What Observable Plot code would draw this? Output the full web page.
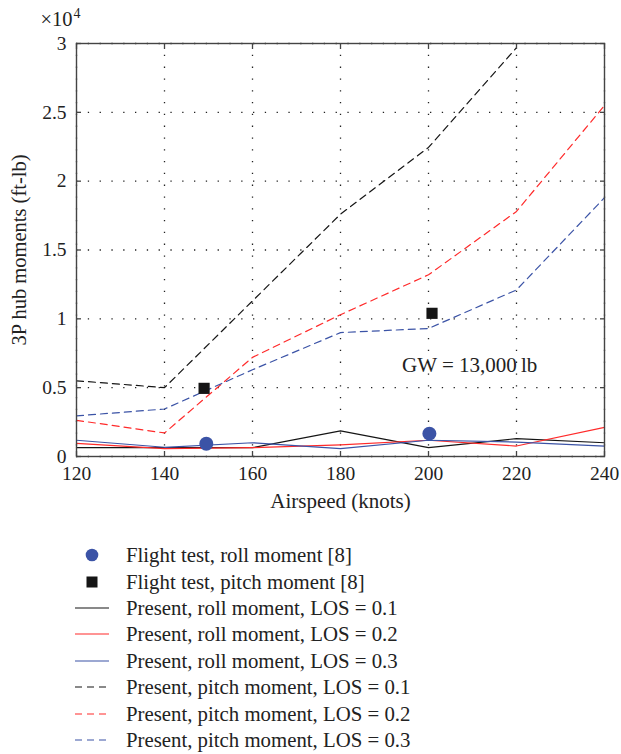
<!DOCTYPE html>
<html>
<head>
<meta charset="utf-8">
<script src="https://cdn.jsdelivr.net/npm/d3@7"></script>
<script src="https://cdn.jsdelivr.net/npm/@observablehq/plot@0.6"></script>
<style>
  html, body { margin: 0; padding: 0; background: #fff; }
  #chart svg { display: block; }
  #legend { font-family: "Liberation Serif", "DejaVu Serif", serif; font-size: 20.8px; color: #222; padding-left: 74px; margin-top: 22px; }
  .row { display: flex; align-items: center; height: 26.4px; }
  .row svg { flex: none; margin-right: 16px; }
</style>
</head>
<body>
<div id="chart"></div>
<div id="legend"></div>
<script>
// Airspeed (knots)
const speeds = [120, 140, 160, 180, 200, 220, 240];
const speedsPitch01 = [120, 140, 160, 180, 200, 220];

// Present, roll moment (ft-lb)
const rollLOS01 = [640, 640, 640, 1860, 640, 1300, 1000];
const rollLOS02 = [960, 570, 640, 850, 1180, 760, 2120];
const rollLOS03 = [1180, 670, 1000, 570, 1180, 1050, 760];

// Present, pitch moment (ft-lb)
const pitchLOS01 = [5500, 5000, 11300, 17600, 22450, 29700];
const pitchLOS02 = [2630, 1710, 7200, 10300, 13200, 17800, 25500];
const pitchLOS03 = [2950, 3450, 6300, 9000, 9300, 12100, 18800];

// Flight test [8]
const flightRollSpeed = [149.5, 200.2];
const flightRoll = [930, 1660];
const flightPitchSpeed = [149.0, 200.8];
const flightPitch = [4950, 10400];

// Ticks
const xTicks = [120, 140, 160, 180, 200, 220, 240];
const yTicks = [0, 5000, 10000, 15000, 20000, 25000, 30000];
const yTickLabels = ["0", "0.5", "1", "1.5", "2", "2.5", "3"];

// Annotation
const annotationText = ["GW = 13,000\u2009lb"];
const annotationAt = { speed: 194, moment: 6600 };

const BLACK = "#151515", RED = "#ff2a2a", BLUE = "#3b53a6";
const FONT = "Liberation Serif";

const series = [
  { name: "Present, roll moment, LOS = 0.1", xs: speeds, ys: rollLOS01, color: BLACK, dash: null },
  { name: "Present, roll moment, LOS = 0.2", xs: speeds, ys: rollLOS02, color: RED, dash: null },
  { name: "Present, roll moment, LOS = 0.3", xs: speeds, ys: rollLOS03, color: BLUE, dash: null },
  { name: "Present, pitch moment, LOS = 0.1", xs: speedsPitch01, ys: pitchLOS01, color: BLACK, dash: "7,5" },
  { name: "Present, pitch moment, LOS = 0.2", xs: speeds, ys: pitchLOS02, color: RED, dash: "7,5" },
  { name: "Present, pitch moment, LOS = 0.3", xs: speeds, ys: pitchLOS03, color: BLUE, dash: "7,5" }
];

const toRows = (xs, ys) => xs.map((x, i) => ({ x, y: ys[i] }));

const lineMarks = series.map(s => Plot.line(toRows(s.xs, s.ys), {
  x: "x", y: "y", stroke: s.color, strokeWidth: 1.2,
  strokeDasharray: s.dash ?? undefined
}));

const yFmt = d => yTickLabels[yTicks.indexOf(d)] ?? String(d / 1e4);

const chart = Plot.plot({
  width: 621,
  height: 520,
  marginLeft: 76,
  marginRight: 17,
  marginTop: 43,
  marginBottom: 64,
  style: { fontFamily: FONT, fontSize: "19.5px", color: "#222", background: "#fff", overflow: "visible" },
  x: { domain: [120, 240] },
  y: { domain: [0, 30000] },
  marks: [
    Plot.gridX(xTicks, { stroke: "#222", strokeOpacity: 1, strokeWidth: 1.3, strokeDasharray: "1.3,10.5" }),
    Plot.gridY(yTicks, { stroke: "#222", strokeOpacity: 1, strokeWidth: 1.3, strokeDasharray: "1.3,10.5" }),
    ...lineMarks,
    Plot.dot(toRows(flightRollSpeed, flightRoll), { x: "x", y: "y", r: 7, fill: BLUE, stroke: "none" }),
    Plot.dot(toRows(flightPitchSpeed, flightPitch), { x: "x", y: "y", symbol: "square", r: 6.3, fill: BLACK, stroke: "none" }),
    Plot.text(annotationText, { x: () => annotationAt.speed, y: () => annotationAt.moment, text: d => d, textAnchor: "start", fontSize: 21, fill: "#222" }),
    Plot.frame({ stroke: "#444", strokeWidth: 1.4 }),
    // tick labels
    Plot.axisX(xTicks, { anchor: "bottom", tickSize: 0, tickPadding: 10, label: null, fontSize: 19.5 }),
    Plot.axisY(yTicks, { anchor: "left", tickSize: 0, tickPadding: 10, tickFormat: yFmt, label: null, fontSize: 19.5 }),
    // inward ticks on all four sides
    Plot.axisX(xTicks, { anchor: "bottom", tickSize: -5, tickFormat: () => "", label: null, stroke: "#444", strokeWidth: 1.3 }),
    Plot.axisX(xTicks, { anchor: "top", tickSize: -5, tickFormat: () => "", label: null, stroke: "#444", strokeWidth: 1.3 }),
    Plot.axisY(yTicks, { anchor: "left", tickSize: -5, tickFormat: () => "", label: null, stroke: "#444", strokeWidth: 1.3 }),
    Plot.axisY(yTicks, { anchor: "right", tickSize: -5, tickFormat: () => "", label: null, stroke: "#444", strokeWidth: 1.3 }),
    // axis titles
    Plot.text(["Airspeed (knots)"], { frameAnchor: "bottom", dy: 51, text: d => d, fontSize: 21, fill: "#222" }),
    Plot.text(["3P hub moments (ft-lb)"], { frameAnchor: "left", dx: -57, rotate: -90, textAnchor: "middle", text: d => d, fontSize: 20.5, fill: "#222" }),
    Plot.text(["\u00d710"], { frameAnchor: "top-left", dx: -36, dy: -18, textAnchor: "start", lineAnchor: "bottom", text: d => d, fontSize: 20.5, fill: "#222" })
  ]
});
document.getElementById("chart").appendChild(chart);

// superscript exponent on the multiplier label
d3.select(chart).selectAll("text").filter(function () { return this.textContent === "\u00d710"; })
  .each(function () {
    d3.select(this).append("tspan").attr("dy", "-0.55em").attr("dx", "1").attr("font-size", 14).text("4");
  });

// Legend
const legendItems = [
  { name: "Flight test, roll moment [8]", kind: "circle", color: BLUE },
  { name: "Flight test, pitch moment [8]", kind: "square", color: BLACK },
  ...series.map(s => ({ name: s.name, kind: "line", color: s.color, dash: s.dash }))
];
const legend = d3.select("#legend");
for (const item of legendItems) {
  const row = legend.append("div").attr("class", "row");
  const svg = row.append("svg").attr("width", 36).attr("height", 20);
  if (item.kind === "circle") {
    svg.append("circle").attr("cx", 18).attr("cy", 10).attr("r", 6.3).attr("fill", item.color);
  } else if (item.kind === "square") {
    svg.append("rect").attr("x", 12.5).attr("y", 4.5).attr("width", 11).attr("height", 11).attr("fill", item.color);
  } else {
    svg.append("line").attr("x1", 1).attr("x2", 35).attr("y1", 10).attr("y2", 10)
      .attr("stroke", item.color).attr("stroke-width", 1.2)
      .attr("stroke-dasharray", item.dash ? "7,5" : null);
  }
  row.append("span").text(item.name);
}
</script>
</body>
</html>
